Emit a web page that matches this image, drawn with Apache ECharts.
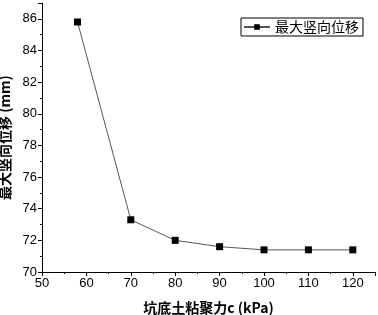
<!DOCTYPE html>
<html>
<head>
<meta charset="utf-8">
<script src="https://cdn.jsdelivr.net/npm/echarts@6/dist/echarts.min.js"></script>
<style>
  html, body { margin: 0; padding: 0; background: #fff; }
  #chart { width: 378px; height: 315px; }
</style>
</head>
<body>
<div id="chart"></div>
<script>
  // 坑底土粘聚力 c (kPa) 与 最大竖向位移 (mm)
  var cohesion = [58, 70, 80, 90, 100, 110, 120];
  var maxDisp = [85.8, 73.3, 72.0, 71.6, 71.4, 71.4, 71.4];
  var seriesName = '最大竖向位移';

  var data = cohesion.map(function (c, i) { return [c, maxDisp[i]]; });

  var chart = echarts.init(document.getElementById('chart'));
  chart.setOption({
    animation: false,
    grid: { left: 42, right: 3, top: 3, bottom: 43, outerBoundsMode: 'none' },
    legend: {
      data: [seriesName],
      right: 15,
      top: 18,
      padding: [2, 4, 2, 2],
      itemGap: 4,
      itemWidth: 26,
      itemHeight: 7,
      borderColor: '#000',
      borderWidth: 1,
      borderRadius: 0,
      textStyle: { fontFamily: 'Noto Sans CJK SC', fontSize: 14, color: '#000' }
    },
    xAxis: {
      type: 'value',
      min: 50,
      max: 125,
      interval: 10,
      name: '坑底土粘聚力c (kPa)',
      nameLocation: 'middle',
      nameGap: 29,
      nameTextStyle: { fontFamily: 'Noto Sans CJK SC', fontSize: 14, fontWeight: 'bold', color: '#000' },
      axisLine: { lineStyle: { color: '#000', width: 1 } },
      axisTick: { inside: false, length: 4, lineStyle: { color: '#000' } },
      minorTick: { show: true, splitNumber: 2, length: 2, lineStyle: { color: '#000' } },
      axisLabel: {
        fontFamily: 'Liberation Sans', fontSize: 13, color: '#000', margin: 5,
        formatter: function (v) { return v > 120 ? '' : v; }
      },
      splitLine: { show: false }
    },
    yAxis: {
      type: 'value',
      min: 70,
      max: 87,
      interval: 2,
      name: '最大竖向位移 (mm)',
      nameLocation: 'middle',
      nameGap: 22,
      nameTextStyle: { fontFamily: 'Noto Sans CJK SC', fontSize: 14, fontWeight: 'bold', color: '#000' },
      axisLine: { show: true, lineStyle: { color: '#000', width: 1 } },
      axisTick: { show: true, inside: false, length: 4, lineStyle: { color: '#000' } },
      minorTick: { show: true, splitNumber: 2, length: 2, lineStyle: { color: '#000' } },
      axisLabel: {
        fontFamily: 'Liberation Sans', fontSize: 13, color: '#000', margin: 5,
        formatter: function (v) { return v > 86 ? '' : v; }
      },
      splitLine: { show: false }
    },
    series: [{
      name: seriesName,
      type: 'line',
      data: data,
      symbol: 'rect',
      symbolSize: 7,
      itemStyle: { color: '#000' },
      lineStyle: { color: '#555', width: 1 }
    }]
  });
</script>
</body>
</html>
